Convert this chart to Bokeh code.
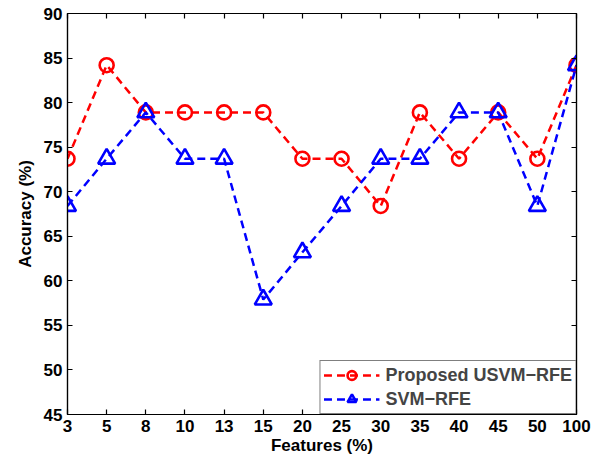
from bokeh.plotting import figure
from bokeh.models import Range1d, FixedTicker, LinearAxis, Legend, LegendItem, CustomJSTickFormatter
from bokeh.embed import file_html
from bokeh.resources import INLINE

features = ["3", "5", "8", "10", "13", "15", "20", "25", "30", "35", "40", "45", "50", "100"]
usvm_rfe = [73.7, 84.2, 78.9, 78.9, 78.9, 78.9, 73.7, 73.7, 68.4, 78.9, 73.7, 78.9, 73.7, 84.2]
svm_rfe = [68.4, 73.7, 78.9, 73.7, 73.7, 57.9, 63.2, 68.4, 73.7, 73.7, 78.9, 78.9, 68.4, 84.2]
y_ticks = [45, 50, 55, 60, 65, 70, 75, 80, 85, 90]

xs = list(range(len(features)))
FONT = "Liberation Sans"

p = figure(frame_width=509, frame_height=401, output_backend="svg", toolbar_location=None,
           x_range=Range1d(0, len(features) - 1), y_range=Range1d(45, 90),
           min_border_left=67, min_border_right=32, min_border_top=13, min_border_bottom=50,
           x_axis_label="Features (%)", y_axis_label="Accuracy (%)")
p.grid.visible = False
p.outline_line_color = "black"
p.outline_line_width = 1.2
p.background_fill_color = "white"
p.border_fill_color = "white"

label_map = {i: f for i, f in enumerate(features)}
p.xaxis.ticker = FixedTicker(ticks=xs)
p.xaxis.major_label_overrides = label_map
p.yaxis.ticker = FixedTicker(ticks=y_ticks)

for ax in (p.xaxis[0], p.yaxis[0]):
    ax.major_tick_in = 5
    ax.major_tick_out = 0
    ax.minor_tick_line_color = None
    ax.axis_line_color = "black"
    ax.axis_line_width = 1.2
    ax.major_tick_line_width = 1.2
    ax.major_label_text_font = FONT
    ax.major_label_text_font_style = "bold"
    ax.major_label_text_font_size = "17px"
    ax.major_label_text_color = "black"
    ax.axis_label_text_font = FONT
    ax.axis_label_text_font_style = "bold"
    ax.axis_label_text_font_size = "17px"
    ax.axis_label_text_color = "black"
p.xaxis.major_label_standoff = 5
p.yaxis.major_label_standoff = 5
p.xaxis.axis_label_standoff = 1
p.yaxis.axis_label_standoff = 6

blank = CustomJSTickFormatter(code="return ''")
top = LinearAxis(ticker=FixedTicker(ticks=xs), formatter=blank, major_tick_in=5, major_tick_out=0,
                 minor_tick_line_color=None, major_label_standoff=0,
                 axis_line_width=1.2, major_tick_line_width=1.2)
right = LinearAxis(ticker=FixedTicker(ticks=y_ticks), formatter=blank, major_tick_in=5, major_tick_out=0,
                   minor_tick_line_color=None, major_label_standoff=0,
                   axis_line_width=1.2, major_tick_line_width=1.2)
p.add_layout(top, "above")
p.add_layout(right, "right")

RED = "#ff0000"
BLUE = "#0000ff"
l1 = p.line(xs, usvm_rfe, line_color=RED, line_width=2.5, line_dash="8 5")
s1 = p.scatter(xs, usvm_rfe, marker="circle", size=14, fill_color=None,
               line_color=RED, line_width=2.6)
l2 = p.line(xs, svm_rfe, line_color=BLUE, line_width=2.5, line_dash="8 5")
s2 = p.scatter(xs, svm_rfe, marker="triangle", size=17, fill_color=None,
               line_color=BLUE, line_width=2.6)

legend = Legend(items=[LegendItem(label="Proposed USVM\u2212RFE", renderers=[l1, s1]),
                       LegendItem(label="SVM\u2212RFE", renderers=[l2, s2])],
                location="bottom_right", margin=0, padding=3, spacing=2,
                glyph_width=56, glyph_height=22, label_height=22,
                label_text_font=FONT, label_text_font_style="bold",
                label_text_font_size="18px", label_standoff=6,
                border_line_color="black", border_line_width=1.2,
                background_fill_color="white", background_fill_alpha=1)
p.add_layout(legend)

open("out.html", "w").write(file_html(p, INLINE))
